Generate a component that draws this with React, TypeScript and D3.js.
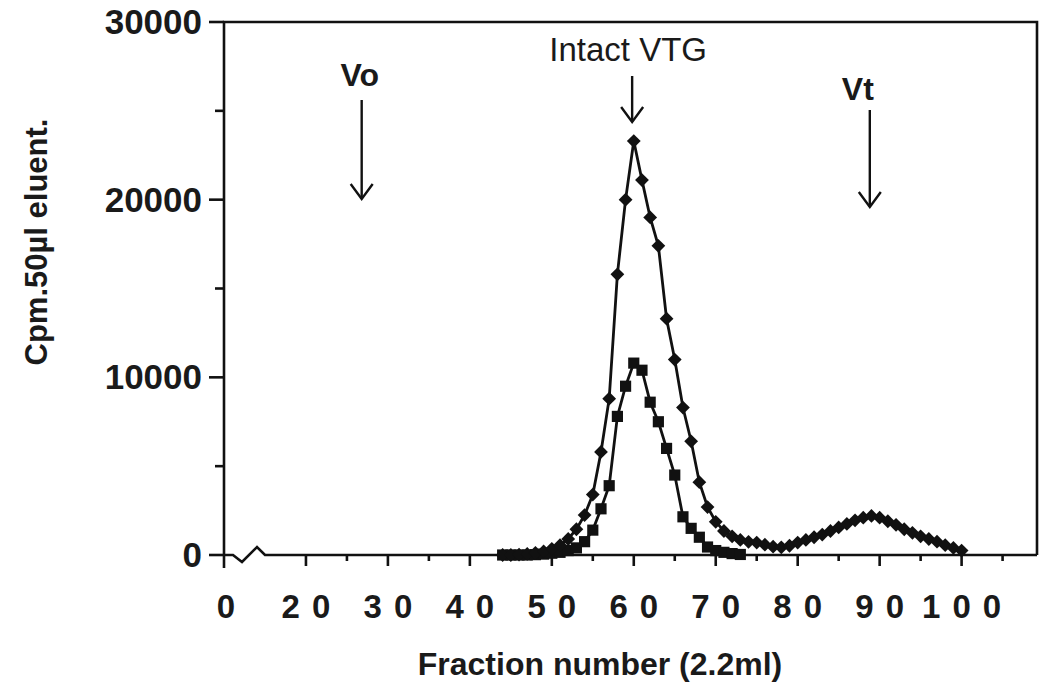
import React from 'react';
import * as d3 from 'd3';

const diamondFractions = d3.range(44, 101);
const diamondValues = [
  0, 0, 20, 60, 120, 200, 350, 550, 900, 1450,
  2250, 3400, 5800, 8800, 15800, 20000, 23300, 21100, 19000, 17400,
  13300, 11000, 8300, 6400, 4100, 2700, 1870, 1350, 1050, 850,
  740, 700, 580, 470, 430, 520, 700, 850, 1000, 1150,
  1350, 1550, 1750, 1950, 2100, 2200, 2100, 1900, 1700, 1450,
  1250, 1050, 900, 750, 550, 400, 250,
];
const squareFractions = d3.range(44, 74);
const squareValues = [
  0, 0, 0, 0, 20, 50, 100, 150, 250, 400,
  750, 1400, 2600, 3900, 7800, 9500, 10800, 10400, 8600, 7500,
  6000, 4500, 2150, 1500, 1000, 450, 250, 150, 80, 30,
];
const yMajorTicks = [0, 10000, 20000, 30000];
const yMinorTicks = [5000, 15000, 25000];
const xMajorTicks = [20, 30, 40, 50, 60, 70, 80, 90, 100];
const xMinorTicks = [25, 35, 45, 55, 65, 75, 85, 95, 105];
const xOrigin = 10;
const xOriginLabel = '0';

const markers = [
  { label: 'Vo', fraction: 26.8, labelY: 86, top: 100, bottom: 199, bold: true, dx: -2, size: 32 },
  { label: 'Intact VTG', fraction: 59.8, labelY: 61, top: 76, bottom: 122, bold: false, dx: -4, size: 33 },
  { label: 'Vt', fraction: 88.8, labelY: 100, top: 110, bottom: 207, bold: true, dx: -12, size: 32 },
];

const FONT = '"Liberation Sans", Arial, Helvetica, sans-serif';

export default function App() {
  const width = 1043;
  const height = 687;
  const x = d3.scaleLinear().domain([10, 109.2]).range([224, 1037]);
  const y = d3.scaleLinear().domain([0, 30000]).range([555, 22]);
  const [x0, x1] = x.range();
  const [y0, y1] = y.range();

  const line = d3
    .line<[number, number]>()
    .x((d) => x(d[0]))
    .y((d) => y(d[1]));

  const diamondData: [number, number][] = diamondFractions.map((f, i) => [f, diamondValues[i]]);
  const squareData: [number, number][] = squareFractions.map((f, i) => [f, squareValues[i]]);

  const diamondPath = d3.symbol(d3.symbolSquare, 95)() as string;
  const squarePath = d3.symbol(d3.symbolSquare, 125)() as string;

  const ax = x(xOrigin);
  const squiggle = `M${ax},${y0} L${ax + 9},${y0} L${ax + 18},${y0 + 7} L${ax + 33},${y0 - 8} L${ax + 41},${y0} L${x1},${y0}`;

  return (
    <svg
      width={width}
      height={height}
      style={{ position: 'absolute', left: 0, top: 0, background: '#fff' }}
      fontFamily={FONT}
    >
      <rect x={0} y={0} width={width} height={height} fill="#fff" />
      <path d={`M${ax},${y0 + 13} L${ax},${y1} L${x1},${y1} L${x1},${y0}`} fill="none" stroke="#111" strokeWidth={2.6} />
      <path d={squiggle} fill="none" stroke="#111" strokeWidth={2.6} />
      {yMajorTicks.map((t) => (
        <g key={`ym${t}`}>
          <line x1={ax - 15} x2={ax} y1={y(t)} y2={y(t)} stroke="#111" strokeWidth={2.6} />
          <text x={ax - 22} y={y(t) + 12} textAnchor="end" fontSize={35} fontWeight="bold" fill="#1a1a1a">
            {t}
          </text>
        </g>
      ))}
      {yMinorTicks.map((t) => (
        <line key={`yn${t}`} x1={ax - 9} x2={ax} y1={y(t)} y2={y(t)} stroke="#111" strokeWidth={2.6} />
      ))}
      {xMajorTicks.map((t) => (
        <g key={`xm${t}`}>
          <line x1={x(t)} x2={x(t)} y1={y0} y2={y0 + 11} stroke="#111" strokeWidth={2.6} />
          <text
            x={x(t) + 6}
            y={618}
            textAnchor="middle"
            fontSize={33}
            fontWeight="bold"
            letterSpacing={12}
            fill="#1a1a1a"
          >
            {t}
          </text>
        </g>
      ))}
      {xMinorTicks.map((t) => (
        <line key={`xn${t}`} x1={x(t)} x2={x(t)} y1={y0} y2={y0 + 6} stroke="#111" strokeWidth={2.6} />
      ))}
      <text x={ax + 2} y={618} textAnchor="middle" fontSize={33} fontWeight="bold" fill="#1a1a1a">
        {xOriginLabel}
      </text>

      <path d={line(squareData) as string} fill="none" stroke="#111" strokeWidth={2.8} />
      <path d={line(diamondData) as string} fill="none" stroke="#111" strokeWidth={2.8} />
      {squareData.map((d) => (
        <path key={`s${d[0]}`} d={squarePath} transform={`translate(${x(d[0])},${y(d[1])})`} fill="#111" />
      ))}
      {diamondData.map((d) => (
        <path
          key={`d${d[0]}`}
          d={diamondPath}
          transform={`translate(${x(d[0])},${y(d[1])}) rotate(45)`}
          fill="#111"
        />
      ))}

      {markers.map((m) => {
        const mx = x(m.fraction);
        return (
          <g key={m.label}>
            <text
              x={mx + m.dx}
              y={m.labelY}
              textAnchor="middle"
              fontSize={m.size}
              fontWeight={m.bold ? 'bold' : 'normal'}
              fill="#1a1a1a"
            >
              {m.label}
            </text>
            <line x1={mx} x2={mx} y1={m.top} y2={m.bottom} stroke="#111" strokeWidth={2.4} />
            <path
              d={`M${mx - 11},${m.bottom - 15} L${mx},${m.bottom} L${mx + 11},${m.bottom - 15}`}
              fill="none"
              stroke="#111"
              strokeWidth={2.4}
            />
          </g>
        );
      })}

      <text x={600} y={675} textAnchor="middle" fontSize={32} fontWeight="bold" fill="#1a1a1a">
        Fraction number (2.2ml)
      </text>
      <text
        transform={`translate(47,242) rotate(-90)`}
        textAnchor="middle"
        fontSize={31}
        fontWeight="bold"
        fill="#1a1a1a"
      >
        Cpm.50µl eluent.
      </text>
    </svg>
  );
}
